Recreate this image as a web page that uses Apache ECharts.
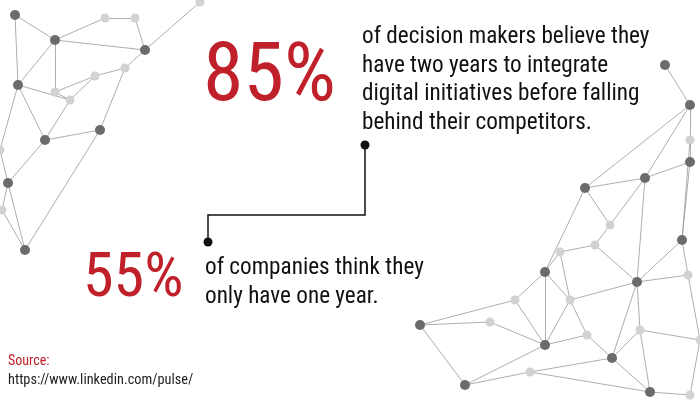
<!DOCTYPE html>
<html><head><meta charset="utf-8">
<script src="https://cdn.jsdelivr.net/npm/echarts@6/dist/echarts.min.js"></script>
<style>html,body{margin:0;padding:0;background:#fff}#c{width:700px;height:400px}</style>
</head><body><div id="c"></div>
<script>
const stats = ['85%', '55%'];
const texts = [
 ['of decision makers believe they','have two years to integrate','digital initiatives before falling','behind their competitors.'],
 ['of companies think they','only have one year.']
];
const sourceLabel = 'Source:';
const sourceUrl = 'https://www.linkedin.com/pulse/';
// decorative network nodes [x, y, shade]
const nodes = [
 [15,15,1],[55,40,1],[105,18,0],[135,18,0],[145,50,1],[200,2,0],[125,68,0],[95,76,0],[70,100,0],[55,92,0],
 [18,85,1],[45,140,1],[8,183,1],[100,130,1],[25,250,1],[2,210,0],[0,150,0],
 [665,65,1],[690,105,1],[690,140,0],[690,162,1],[645,178,1],[585,188,1],[610,225,0],[595,245,0],[560,252,0],
 [545,272,1],[637,282,1],[682,240,1],[688,275,0],[515,300,0],[420,325,1],[490,322,0],[545,345,1],[587,335,0],
 [612,358,1],[530,372,0],[465,385,1],[650,392,1],[690,395,0],[700,340,0],[570,300,0],[640,330,0]
];
const links = [
 [0,1],[1,2],[1,4],[2,3],[3,4],[4,5],[4,6],[6,7],[7,9],[1,9],[9,8],[8,10],[0,10],[10,11],[11,12],[8,11],[11,13],[13,6],[12,15],[15,14],[12,14],[10,16],[16,12],[1,10],[7,8],[13,14],
 [17,18],[18,19],[19,20],[20,21],[18,21],[21,22],[22,23],[23,24],[24,25],[25,26],[21,23],[21,27],[27,28],[28,20],[27,29],[22,26],[26,30],[30,31],[31,32],[32,33],[33,34],[34,35],[35,36],[36,37],[37,33],[33,30],[26,41],[41,27],[41,33],[27,42],[42,35],[42,38],[35,38],[38,39],[42,40],[40,39],[29,40],[27,35],[26,33],[31,37],[24,27],[28,29],[22,18],[36,38],[25,41],[34,41],[19,28]
];
const chart = echarts.init(document.getElementById('c'));
const F = '"Liberation Sans Narrow","Roboto Condensed","Liberation Sans",sans-serif';
const body = {fill:'#111', font:'23.2px '+F};
const g = [];
texts[0].forEach((t,i)=>g.push({type:'text',left:362,top:26+i*28.5,style:Object.assign({text:t},body)}));
texts[1].forEach((t,i)=>g.push({type:'text',left:205,top:257+i*28.5,style:Object.assign({text:t},body)}));
g.push({type:'text',left:203,top:38,style:{text:stats[0],fill:'#c0202a',font:'82px '+F}});
g.push({type:'text',left:83,top:249,style:{text:stats[1],fill:'#c0202a',font:'62px '+F}});
g.push({type:'polyline',shape:{points:[[365,145],[365,215],[208,215],[208,242]]},style:{stroke:'#111',lineWidth:1.5,fill:null}});
g.push({type:'circle',shape:{cx:365,cy:145,r:4.5},style:{fill:'#111'}});
g.push({type:'circle',shape:{cx:208,cy:242,r:4.5},style:{fill:'#111'}});
g.push({type:'text',left:8,top:354,style:{text:sourceLabel,fill:'#c0202a',font:'14px '+F}});
g.push({type:'text',left:8,top:373,style:{text:sourceUrl,fill:'#222',font:'14.3px '+F}});
chart.setOption({
 animation:false,
 grid:{left:0,right:0,top:0,bottom:0},
 xAxis:{type:'value',min:0,max:700,show:false},
 yAxis:{type:'value',min:0,max:400,inverse:true,show:false},
 series:[{type:'graph',coordinateSystem:'cartesian2d',silent:true,z:1,
   data:nodes.map(n=>({value:[n[0],n[1]],symbolSize:n[2]?10:9,itemStyle:{color:n[2]?'#6b6b6b':'#d2d2d2'}})),
   links:links.map(l=>({source:l[0],target:l[1]})),
   lineStyle:{color:'#9a9a9a',width:1,opacity:0.8}}],
 graphic:g
});
</script></body></html>
